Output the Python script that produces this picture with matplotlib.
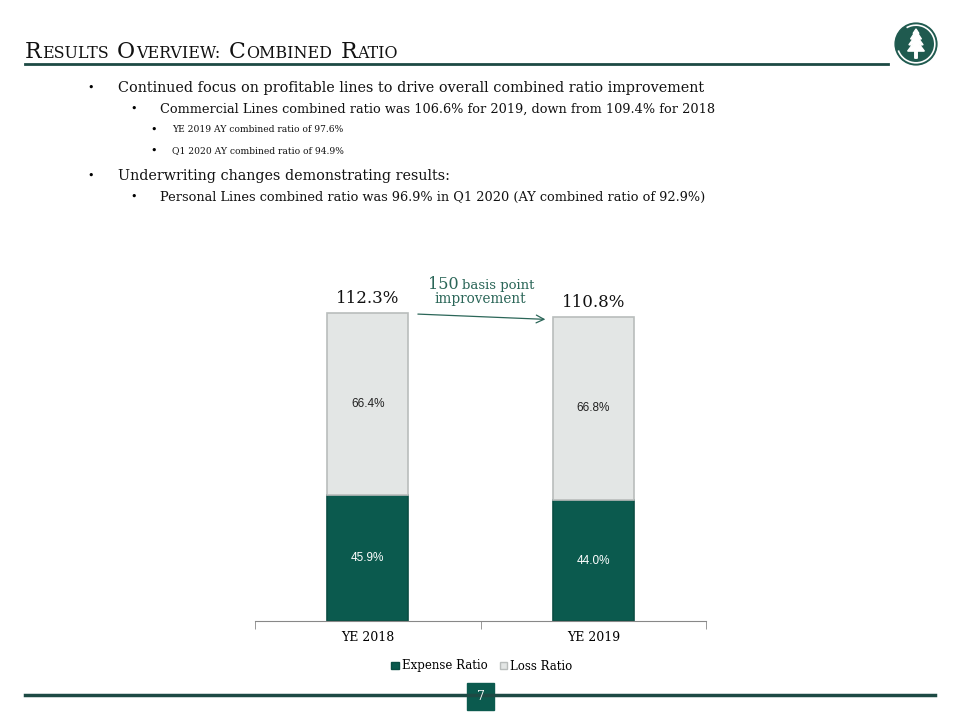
import matplotlib.pyplot as plt
import matplotlib.patches as mpatches
import numpy as np

# data
categories = ["YE 2018", "YE 2019"]
expense_ratio = [45.9, 44.0]
loss_ratio = [66.4, 66.8]
series_names = ["Expense Ratio", "Loss Ratio"]

bullets = [
    (0, "Continued focus on profitable lines to drive overall combined ratio improvement"),
    (1, "Commercial Lines combined ratio was 106.6% for 2019, down from 109.4% for 2018"),
    (2, "YE 2019 AY combined ratio of 97.6%"),
    (2, "Q1 2020 AY combined ratio of 94.9%"),
    (0, "Underwriting changes demonstrating results:"),
    (1, "Personal Lines combined ratio was 96.9% in Q1 2020 (AY combined ratio of 92.9%)"),
]

GREEN = "#0b5a4e"
DARK_LINE = "#1d4a44"
LOSS_FILL = "#e3e6e5"
NOTE = "#2b6658"
SERIF = "DejaVu Serif"

W, H = 960, 720
fig = plt.figure(figsize=(9.6, 7.2), dpi=100)


def fx(px):
    return px / W


def fy(py):
    return 1 - py / H


# title in small caps, built piece by piece
renderer = fig.canvas.get_renderer()
pieces = [("R", 15.8), ("ESULTS", 11.4), (" ", 0), ("O", 15.8), ("VERVIEW:", 11.4), (" ", 0),
          ("C", 15.8), ("OMBINED", 11.4), (" ", 0), ("R", 15.8), ("ATIO", 11.4)]
x = 25
for txt, size in pieces:
    if txt == " ":
        x += 8
        continue
    t = fig.text(fx(x), fy(58), txt, fontsize=size, family=SERIF, color="#111111",
                 ha="left", va="baseline")
    bb = t.get_window_extent(renderer)
    x += bb.width + 0.5

fig.add_artist(plt.Line2D([fx(25), fx(888)], [fy(63.5), fy(63.5)], color=DARK_LINE, lw=2))

# logo
lax = fig.add_axes([fx(893), fy(67), fx(46), 46 / H])
lax.set_xlim(-1.1, 1.1)
lax.set_ylim(-1.1, 1.1)
lax.set_aspect("equal")
lax.axis("off")
lax.add_patch(mpatches.Circle((0, 0), 1.0, color="#1f5a4f"))
lax.add_patch(mpatches.Arc((0, 0), 1.8, 1.8, theta1=200, theta2=120, color="white", lw=1.2))
tree = [(0, 0.72), (0.14, 0.5), (0.09, 0.5), (0.26, 0.24), (0.14, 0.24), (0.34, -0.04),
        (0.18, -0.04), (0.4, -0.34), (0.06, -0.34), (0.06, -0.68), (-0.06, -0.68),
        (-0.06, -0.34), (-0.4, -0.34), (-0.18, -0.04), (-0.34, -0.04), (-0.14, 0.24),
        (-0.26, 0.24), (-0.09, 0.5), (-0.14, 0.5)]
lax.add_patch(mpatches.Polygon(tree, closed=True, color="white"))

# bullets
indent = {0: (87, 118, 10.4), 1: (130, 160, 9.3), 2: (150, 172, 6.6)}
ys = [88, 109, 130, 151, 176, 197]
for (lvl, txt), yy in zip(bullets, ys):
    bx, tx, size = indent[lvl]
    fig.text(fx(bx), fy(yy), "\u2022", fontsize=8, family=SERIF, va="center", ha="left")
    fig.text(fx(tx), fy(yy), txt, fontsize=size, family=SERIF, va="center", ha="left",
             color="#111111")

# footer
fig.add_artist(plt.Line2D([fx(25), fx(935)], [fy(695), fy(695)], color=DARK_LINE, lw=2.5))
fig.add_artist(mpatches.Rectangle((fx(467), fy(710)), fx(27), 27 / H, color=GREEN,
                                  transform=fig.transFigure))
fig.text(fx(480.5), fy(696), "7", color="white", fontsize=9, family=SERIF, ha="center", va="center")

# chart
ax = fig.add_axes([fx(255), fy(621), fx(451), 357 / H])
xpos = np.arange(len(categories))
bw = 0.36
ax.bar(xpos, expense_ratio, bw, color=GREEN, edgecolor="#0a4d43", lw=1.2, label=series_names[0])
ax.bar(xpos, loss_ratio, bw, bottom=expense_ratio, color=LOSS_FILL, edgecolor="#b9bdbc",
       lw=1.2, label=series_names[1])
ax.set_xlim(-0.5, 1.5)
ax.set_ylim(0, 130)

tot = [e + l for e, l in zip(expense_ratio, loss_ratio)]
for i in xpos:
    ax.text(i, expense_ratio[i] / 2, f"{expense_ratio[i]:.1f}%", ha="center", va="center",
            color="white", fontsize=8.5, family="Liberation Sans")
    ax.text(i, expense_ratio[i] + loss_ratio[i] / 2, f"{loss_ratio[i]:.1f}%", ha="center",
            va="center", color="#222222", fontsize=8.5, family="Liberation Sans")
    ax.text(i, tot[i] + 5, f"{tot[i]:.1f}%", ha="center", va="center", fontsize=12,
            family=SERIF, color="#111111")

ax.annotate("", xy=(1 - bw / 2 - 0.02, tot[1] - 1), xytext=(bw / 2 + 0.03, tot[0] - 0.5),
            arrowprops=dict(arrowstyle="->", color=NOTE, lw=0.9, mutation_scale=14))
ax.text(0.405, 122.6, "150", ha="right", va="center", fontsize=11.5, family=SERIF, color=NOTE)
ax.text(0.42, 122.3, "basis point", ha="left", va="center", fontsize=9.5, family=SERIF,
        color=NOTE)
ax.text(0.5, 117.3, "improvement", ha="center", va="center", fontsize=9.8, family=SERIF,
        color=NOTE)

for s in ["top", "right", "left"]:
    ax.spines[s].set_visible(False)
ax.spines["bottom"].set_color("#888888")
ax.set_yticks([])
ax.set_xticks(xpos)
ax.set_xticklabels(categories, family=SERIF, fontsize=9)
ax.tick_params(axis="x", which="major", length=0, pad=7)
ax.set_xticks([-0.5, 0.5, 1.5], minor=True)
ax.tick_params(axis="x", which="minor", length=6, color="#888888")

handles = [mpatches.Patch(facecolor=GREEN, edgecolor="#0a4d43"),
           mpatches.Patch(facecolor=LOSS_FILL, edgecolor="#b9bdbc")]
fig.legend(handles, series_names, loc="center", bbox_to_anchor=(fx(482), fy(666)), ncol=2,
           frameon=False, prop={"family": SERIF, "size": 8.5}, handlelength=0.6,
           handleheight=0.6, handletextpad=0.3, columnspacing=1.0)

fig.savefig("out.png", dpi=100)
